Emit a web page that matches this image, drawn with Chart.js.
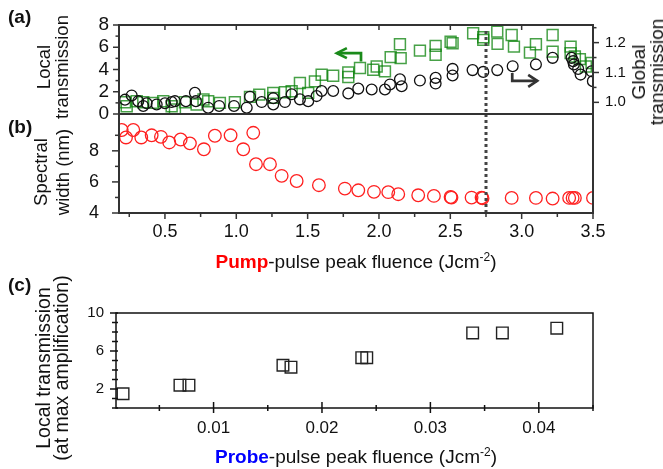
<!DOCTYPE html>
<html><head><meta charset="utf-8">
<script src="https://cdn.jsdelivr.net/npm/chart.js@4/dist/chart.umd.min.js"></script>
<style>
html,body{margin:0;padding:0;background:#fff;}
#wrap{position:relative;width:663px;height:469px;overflow:hidden;font-family:"Liberation Sans",Arial,sans-serif;color:#111;}
canvas{position:absolute;left:0;top:0;}
.lbl{position:absolute;white-space:nowrap;line-height:1;}
.ctr{transform:translateX(-50%);}
.rot{position:absolute;white-space:nowrap;text-align:center;transform:translate(-50%,-50%) rotate(-90deg);}
</style></head>
<body><div id="wrap">
<canvas id="ca" width="663" height="469" style="width:663px;height:469px"></canvas>
<canvas id="cb" width="663" height="469" style="width:663px;height:469px"></canvas>
<canvas id="cc" width="663" height="469" style="width:663px;height:469px"></canvas>

<div class="lbl" style="left:8px;top:7px;font-size:19px;font-weight:bold;">(a)</div>
<div class="lbl" style="left:8px;top:117px;font-size:19px;font-weight:bold;">(b)</div>
<div class="lbl" style="left:8px;top:275px;font-size:19px;font-weight:bold;">(c)</div>

<div class="rot" style="left:52.8px;top:67px;font-size:18.5px;line-height:18px;">Local<br>transmission</div>
<div class="rot" style="left:51.6px;top:172px;font-size:18.5px;line-height:22px;">Spectral<br>width (nm)</div>
<div class="rot" style="left:52.2px;top:368px;font-size:19.5px;line-height:18px;">Local transmission<br>(at max amplification)</div>
<div class="rot" style="left:648.4px;top:71.5px;font-size:19px;line-height:18px;">Global<br>transmission</div>

<div class="lbl ctr" style="left:356px;top:252px;font-size:19px;"><span style="color:#ff0000;font-weight:bold;">Pump</span>-pulse peak fluence (Jcm<span style="font-size:12px;position:relative;top:-7px;">-2</span>)</div>
<div class="lbl ctr" style="left:356px;top:447px;font-size:19px;"><span style="color:#0000ff;font-weight:bold;">Probe</span>-pulse peak fluence (Jcm<span style="font-size:12px;position:relative;top:-7px;">-2</span>)</div>
</div>
<script>
// ---------- data ----------
// (a) local transmission (left axis, green squares)
const pumpLocalX = [0.22,0.232,0.302,0.348,0.418,0.488,0.547,0.57,0.64,0.722,0.77,0.803,0.885,0.99,1.096,1.161,1.259,1.259,1.341,1.388,1.446,1.504,1.551,1.598,1.679,1.785,1.785,1.867,1.96,1.984,2.042,2.082,2.152,2.147,2.287,2.397,2.397,2.502,2.516,2.66,2.731,2.731,2.829,2.831,2.93,2.946,3.058,3.10,3.217,3.217,3.343,3.343,3.373,3.408,3.45,3.49];
const localT     = [1.05,0.7,1.14,1.05,1.0,1.14,0.7,0.4,1.05,0.85,1.3,1.14,1.0,1.05,1.54,1.74,1.9,1.45,1.95,2.04,2.79,1.9,2.93,3.53,3.44,3.74,3.32,4.13,3.98,4.27,3.83,5.11,5.02,6.27,5.7,6.12,5.32,6.5,6.36,7.26,6.9,6.66,7.4,6.3,7.1,6.06,5.52,6.27,7.1,5.61,6.06,5.47,5.17,4.93,4.27,4.58];
// (a) global transmission (right axis, black circles)
const pumpGlobalX = [0.22,0.267,0.313,0.348,0.372,0.442,0.50,0.547,0.57,0.647,0.71,0.717,0.803,0.88,0.984,1.073,1.096,1.178,1.259,1.259,1.341,1.388,1.446,1.504,1.563,1.598,1.679,1.785,1.855,1.949,2.042,2.077,2.147,2.159,2.287,2.397,2.397,2.516,2.516,2.656,2.731,2.829,2.937,3.10,3.217,3.35,3.361,3.366,3.396,3.413,3.49,3.499];
const globalT     = [1.009,1.023,1.004,0.988,0.997,0.993,0.997,1.001,1.004,1.004,1.032,1.004,0.982,0.988,0.988,0.982,1.019,1.001,1.014,0.993,1.001,1.027,1.01,1.004,1.021,1.038,1.038,1.03,1.046,1.043,1.043,1.06,1.077,1.054,1.073,1.082,1.063,1.112,1.09,1.108,1.102,1.108,1.121,1.127,1.149,1.149,1.138,1.127,1.112,1.093,1.104,1.071];
// (b) spectral width (red circles)
const pumpWidthX = [0.197,0.227,0.278,0.334,0.407,0.472,0.53,0.61,0.675,0.773,0.85,0.96,1.049,1.119,1.138,1.236,1.318,1.423,1.579,1.761,1.855,1.965,2.065,2.135,2.275,2.385,2.502,2.508,2.649,2.719,2.726,2.93,3.10,3.217,3.333,3.357,3.373,3.50];
const spectralWidth = [9.34,8.86,9.34,8.86,9.0,8.9,8.54,8.73,8.48,8.1,8.97,9.0,8.1,9.16,7.14,7.14,6.39,6.06,5.79,5.57,5.46,5.36,5.34,5.21,5.14,5.1,5.03,4.99,4.99,4.99,4.95,4.97,4.97,4.93,4.97,4.97,4.97,4.97];
// (c) local transmission at max amplification vs probe fluence
const probeX = [0.00165,0.0069,0.00773,0.0164,0.01714,0.02367,0.02413,0.0339,0.03664,0.04166];
const probeT = [1.5,2.4,2.4,4.5,4.3,5.3,5.3,7.9,7.9,8.4];
const markerFluence = 2.75;

// ---------- ticks ----------
const xTicksPump = [0.5,1.0,1.5,2.0,2.5,3.0,3.5];
const xMinorPump = [0.25,0.75,1.25,1.75,2.25,2.75,3.25];
const yTicksLocal = [0,2,4,6,8];
const yMinorLocal = [1,3,5,7];
const yTicksGlobal = [1.0,1.1,1.2];
const yMinorGlobal = [1.05,1.15,1.25];
const yTicksWidth = [4,6,8];
const yMinorWidth = [5,7,9];
const xTicksProbe = [0.01,0.02,0.03,0.04];
const xMinorProbe = [0.005,0.015,0.025,0.035,0.045];
const yTicksProbe = [2,6,10];
const yMinorProbe = [0,1,3,4,5,7,8,9];

const FONT = "'Liberation Sans', Arial, sans-serif";
const pts = (xs, ys) => xs.map((x, i) => ({x: x, y: ys[i]}));
const setTicks = vals => s => { s.ticks = vals.map(v => ({value: v})); };

const decor = {
  id: 'decor',
  afterDatasetsDraw(chart, args, o) {
    const ctx = chart.ctx, ca = chart.chartArea;
    ctx.save();
    if (o.vline) {
      const v = o.vline;
      const px = Math.round(chart.scales.x.getPixelForValue(v.x));
      const y0 = (v.scale && v.top != null) ? chart.scales[v.scale].getPixelForValue(v.top) : ca.top;
      ctx.strokeStyle = v.color; ctx.lineWidth = v.width; ctx.setLineDash(v.dash);
      ctx.beginPath(); ctx.moveTo(px, y0); ctx.lineTo(px, ca.bottom); ctx.stroke();
      ctx.setLineDash([]);
    }
    (o.arrows || []).forEach(a => {
      const xs = chart.scales.x, ys = chart.scales[a.yScale];
      const p = a.xs.map((x, i) => [xs.getPixelForValue(x), ys.getPixelForValue(a.ys[i])]);
      ctx.strokeStyle = a.color; ctx.lineWidth = a.width; ctx.lineJoin = 'miter'; ctx.lineCap = 'butt';
      ctx.beginPath();
      p.forEach((q, i) => i ? ctx.lineTo(q[0], q[1]) : ctx.moveTo(q[0], q[1]));
      ctx.stroke();
      const [x1, y1] = p[p.length - 2], [x2, y2] = p[p.length - 1];
      const an = Math.atan2(y2 - y1, x2 - x1), c = Math.cos(an), s = Math.sin(an);
      ctx.beginPath();
      ctx.moveTo(x2 - a.head * c + a.half * s, y2 - a.head * s - a.half * c);
      ctx.lineTo(x2, y2);
      ctx.lineTo(x2 - a.head * c - a.half * s, y2 - a.head * s + a.half * c);
      ctx.stroke();
    });
    if (o.frame) {
      ctx.strokeStyle = o.frame.color; ctx.lineWidth = o.frame.width;
      ctx.strokeRect(ca.left, ca.top, ca.right - ca.left, ca.bottom - ca.top);
    }
    ctx.strokeStyle = o.tickColor; ctx.lineWidth = o.tickWidth;
    (o.ticks || []).forEach(t => {
      const sc = chart.scales[t.scale];
      t.values.forEach(v => {
        const q = sc.getPixelForValue(v);
        ctx.beginPath();
        if (t.edge === 'left') { ctx.moveTo(ca.left - t.out, q); ctx.lineTo(ca.left + t.in, q); }
        else if (t.edge === 'right') { ctx.moveTo(ca.right - t.in, q); ctx.lineTo(ca.right + t.out, q); }
        else if (t.edge === 'bottom') { ctx.moveTo(q, ca.bottom - t.in); ctx.lineTo(q, ca.bottom + t.out); }
        else { ctx.moveTo(q, ca.top - t.out); ctx.lineTo(q, ca.top + t.in); }
        ctx.stroke();
      });
    });
    ctx.restore();
  }
};

const base = {
  responsive: false, animation: false, devicePixelRatio: 1,
  plugins: {legend: {display: false}, tooltip: {enabled: false}}
};
const noGrid = {display: false, drawTicks: false};
const noBorder = {display: false};

// ---------- (a) ----------
new Chart(document.getElementById('ca'), {
  type: 'scatter',
  data: {datasets: [
    {label: 'Global transmission', data: pts(pumpGlobalX, globalT), yAxisID: 'y2', pointStyle: 'circle', pointRadius: 5.4,
     borderColor: '#111', backgroundColor: 'rgba(0,0,0,0)', borderWidth: 1.3, clip: 0},
    {label: 'Local transmission', data: pts(pumpLocalX, localT), yAxisID: 'y', pointStyle: 'rect', pointRadius: 7.7,
     borderColor: 'rgba(10,130,10,0.75)', backgroundColor: 'rgba(0,0,0,0)', borderWidth: 1.5, clip: 0}
  ]},
  options: Object.assign({}, base, {
    layout: {padding: {top: 25, left: 0, right: 0, bottom: 0}},
    plugins: Object.assign({}, base.plugins, {decor: {
      frame: {color: '#333', width: 2},
      vline: {x: markerFluence, scale: 'y', top: 7.45, color: '#444', width: 3, dash: [3, 3]},
      arrows: [
        {xs: [1.874, 1.874, 1.705], ys: [4.72, 5.47, 5.47], yScale: 'y', color: '#1a8a1a', width: 2.7, head: 10, half: 5},
        {xs: [2.934, 2.934, 3.109], ys: [1.098, 1.072, 1.072], yScale: 'y2', color: '#333', width: 2.7, head: 9, half: 6}
      ],
      tickColor: '#333', tickWidth: 1.5,
      ticks: [
        {scale: 'y', edge: 'left', values: yTicksLocal, out: 6, in: 0},
        {scale: 'y', edge: 'left', values: yMinorLocal, out: 3.5, in: 0},
        {scale: 'y2', edge: 'right', values: yTicksGlobal, out: 6, in: 0},
        {scale: 'y2', edge: 'right', values: yMinorGlobal, out: 3.5, in: 0},
        {scale: 'x', edge: 'top', values: xTicksPump.filter(v => v < 3.5), out: 0, in: 5}
      ]
    }}),
    scales: {
      x: {type: 'linear', min: 0.178, max: 3.5, ticks: {display: false}, grid: noGrid, border: noBorder,
          afterFit: s => { s.height = 355; }},
      y: {type: 'linear', position: 'left', min: 0, max: 8, afterBuildTicks: setTicks(yTicksLocal),
          ticks: {color: '#111', padding: 10, autoSkip: false, font: {family: FONT, size: 19}, callback: v => String(v)},
          grid: noGrid, border: noBorder, afterFit: s => { s.width = 119; }},
      y2: {type: 'linear', position: 'right', min: 0.961, max: 1.259, afterBuildTicks: setTicks(yTicksGlobal),
          ticks: {color: '#111', padding: 12, autoSkip: false, font: {family: FONT, size: 15}, callback: v => v.toFixed(1)},
          grid: noGrid, border: noBorder, afterFit: s => { s.width = 70; }}
    }
  }),
  plugins: [decor]
});

// ---------- (b) ----------
new Chart(document.getElementById('cb'), {
  type: 'scatter',
  data: {datasets: [
    {label: 'Spectral width', data: pts(pumpWidthX, spectralWidth), pointStyle: 'circle', pointRadius: 6.3,
     borderColor: '#ff2020', backgroundColor: 'rgba(0,0,0,0)', borderWidth: 1.3, clip: 0}
  ]},
  options: Object.assign({}, base, {
    layout: {padding: {top: 114, left: 0, right: 70, bottom: 0}},
    plugins: Object.assign({}, base.plugins, {decor: {
      frame: {color: '#333', width: 2},
      vline: {x: markerFluence, color: '#444', width: 3, dash: [3, 3]},
      tickColor: '#333', tickWidth: 1.5,
      ticks: [
        {scale: 'y', edge: 'left', values: yTicksWidth, out: 7, in: 0},
        {scale: 'y', edge: 'left', values: yMinorWidth, out: 4, in: 0},
        {scale: 'x', edge: 'bottom', values: xTicksPump, out: 6, in: 0},
        {scale: 'x', edge: 'bottom', values: xMinorPump, out: 4, in: 0}
      ]
    }}),
    scales: {
      x: {type: 'linear', min: 0.178, max: 3.5, afterBuildTicks: setTicks(xTicksPump),
          ticks: {color: '#111', padding: 8, maxRotation: 0, autoSkip: false, font: {family: FONT, size: 18}, callback: v => v.toFixed(1)},
          grid: noGrid, border: noBorder, afterFit: s => { s.height = 256; }},
      y: {type: 'linear', position: 'left', min: 4, max: 10.37, afterBuildTicks: setTicks(yTicksWidth),
          ticks: {color: '#111', padding: 20, autoSkip: false, font: {family: FONT, size: 18}, callback: v => String(v)},
          grid: noGrid, border: noBorder, afterFit: s => { s.width = 119; }}
    }
  }),
  plugins: [decor]
});

// ---------- (c) ----------
new Chart(document.getElementById('cc'), {
  type: 'scatter',
  data: {datasets: [
    {label: 'Local transmission (max amplification)', data: pts(probeX, probeT), pointStyle: 'rect', pointRadius: 8.2,
     borderColor: '#222', backgroundColor: 'rgba(0,0,0,0)', borderWidth: 1.4, clip: 0}
  ]},
  options: Object.assign({}, base, {
    layout: {padding: {top: 313, left: 0, right: 70, bottom: 0}},
    plugins: Object.assign({}, base.plugins, {decor: {
      frame: {color: '#111', width: 1.5},
      tickColor: '#111', tickWidth: 1.5,
      ticks: [
        {scale: 'y', edge: 'left', values: yTicksProbe, out: 6, in: 2},
        {scale: 'y', edge: 'left', values: yMinorProbe, out: 4, in: 2},
        {scale: 'x', edge: 'bottom', values: xTicksProbe, out: 5, in: 6},
        {scale: 'x', edge: 'bottom', values: xMinorProbe, out: 3, in: 3}
      ]
    }}),
    scales: {
      x: {type: 'linear', min: 0.001, max: 0.045, afterBuildTicks: setTicks(xTicksProbe),
          ticks: {color: '#111', padding: 10, maxRotation: 0, autoSkip: false, font: {family: FONT, size: 17}, callback: v => v.toFixed(2)},
          grid: noGrid, border: noBorder, afterFit: s => { s.height = 61; }},
      y: {type: 'linear', position: 'left', min: 0, max: 10, afterBuildTicks: setTicks(yTicksProbe),
          ticks: {color: '#111', padding: 12, autoSkip: false, font: {family: FONT, size: 15}, callback: v => String(v)},
          grid: noGrid, border: noBorder, afterFit: s => { s.width = 116; }}
    }
  }),
  plugins: [decor]
});
</script>
</body></html>
